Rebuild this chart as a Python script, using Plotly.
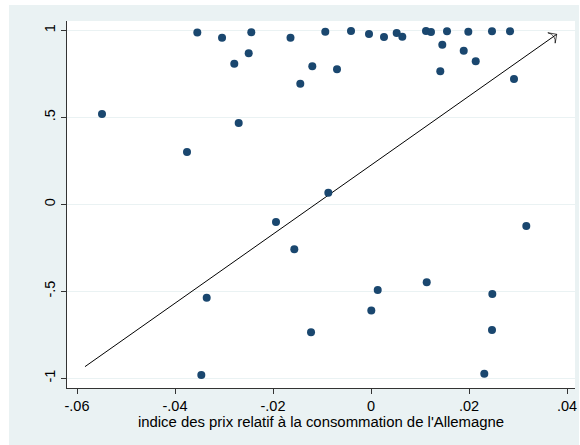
import plotly.graph_objects as go

# Data
prix_relatif = [
    -0.0549, -0.03755, -0.03545, -0.0304, -0.0279, -0.0270, -0.02496, -0.02443,
    -0.01643, -0.01443, -0.01198, -0.00933, -0.00694, -0.00408, -0.00041, 0.00265,
    0.00524, 0.00639, 0.01122, 0.01224, 0.01551, 0.01986, 0.02469, 0.02837,
    0.01455, 0.01892, 0.02137, 0.01414, 0.02918, -0.00871, -0.01939, -0.01565,
    -0.03353, -0.01224, -0.03463, 0.00137, 0.00006, 0.01137, 0.02476, 0.02469,
    0.02312, 0.03169,
]
correlation = [
    0.519, 0.301, 0.987, 0.957, 0.808, 0.467, 0.868, 0.989,
    0.957, 0.693, 0.793, 0.992, 0.776, 0.996, 0.979, 0.961,
    0.984, 0.963, 0.996, 0.990, 0.994, 0.992, 0.994, 0.994,
    0.917, 0.883, 0.822, 0.764, 0.720, 0.067, -0.102, -0.259,
    -0.537, -0.736, -0.981, -0.493, -0.611, -0.448, -0.516, -0.722,
    -0.974, -0.125,
]
arrow_x = [-0.05837, 0.0379]
arrow_y = [-0.933, 0.977]

x_tickvals = [-0.06, -0.04, -0.02, 0, 0.02, 0.04]
x_ticktext = ["-.06", "-.04", "-.02", "0", ".02", ".04"]
y_tickvals = [-1, -0.5, 0, 0.5, 1]
y_ticktext = ["-1", "-.5", "0", ".5", "1"]
x_title = "indice des prix relatif à la consommation de l'Allemagne"

BG = "#EAF2F3"
NAVY = "#1A476F"
FONT = "Liberation Sans, Arial, sans-serif"

fig = go.Figure()

fig.add_trace(go.Scatter(
    x=arrow_x, y=arrow_y, mode="lines+markers",
    line=dict(color="black", width=1),
    marker=dict(symbol=["circle", "arrow-wide-open"], size=[0, 9],
                angleref="previous", color="black",
                line=dict(color="black", width=1)),
    hoverinfo="skip", showlegend=False,
))

fig.add_trace(go.Scatter(
    x=prix_relatif, y=correlation, mode="markers",
    marker=dict(color=NAVY, size=8, line=dict(width=0)),
    showlegend=False,
))

PW, PH = 508, 367  # plot area size in pixels
# white strips around the light graph region (left, top, right)
for x0, x1, y0, y1 in [(-67, -58, -57, 21 + 367), (-67, 513, 383, 388),
                       (512, 513, -57, 388)]:
    fig.add_shape(type="rect", xref="paper", yref="paper",
                  x0=x0 / PW, x1=x1 / PW, y0=y0 / PH, y1=y1 / PH + 0.2,
                  fillcolor="white", line=dict(width=0), layer="below")

fig.update_layout(
    width=580, height=445,
    margin=dict(l=67, r=5, t=21, b=57, autoexpand=False),
    paper_bgcolor=BG, plot_bgcolor="white",
    font=dict(family=FONT, size=14, color="black"),
    xaxis=dict(
        range=[-0.06204, 0.04163], tickvals=x_tickvals, ticktext=x_ticktext,
        showgrid=False, zeroline=False, showline=True, linecolor="#333333", linewidth=1,
        ticks="outside", ticklen=5, tickcolor="#333333", automargin=False,
        title=dict(text=x_title, standoff=3, font=dict(size=14.9)),
        tickfont=dict(size=14.5),
    ),
    yaxis=dict(
        range=[-1.0557, 1.0534], tickvals=y_tickvals, ticktext=y_ticktext,
        showgrid=True, gridcolor=BG, gridwidth=1, zeroline=False,
        showline=True, linecolor="#333333", linewidth=1, automargin=False,
        ticks="outside", ticklen=5, tickcolor="#333333",
        tickangle=-90, tickfont=dict(size=14.5),
    ),
)

fig.write_html("out.html", config={"displayModeBar": False},
               post_script="document.body.style.margin='0';document.body.style.overflow='hidden';")
